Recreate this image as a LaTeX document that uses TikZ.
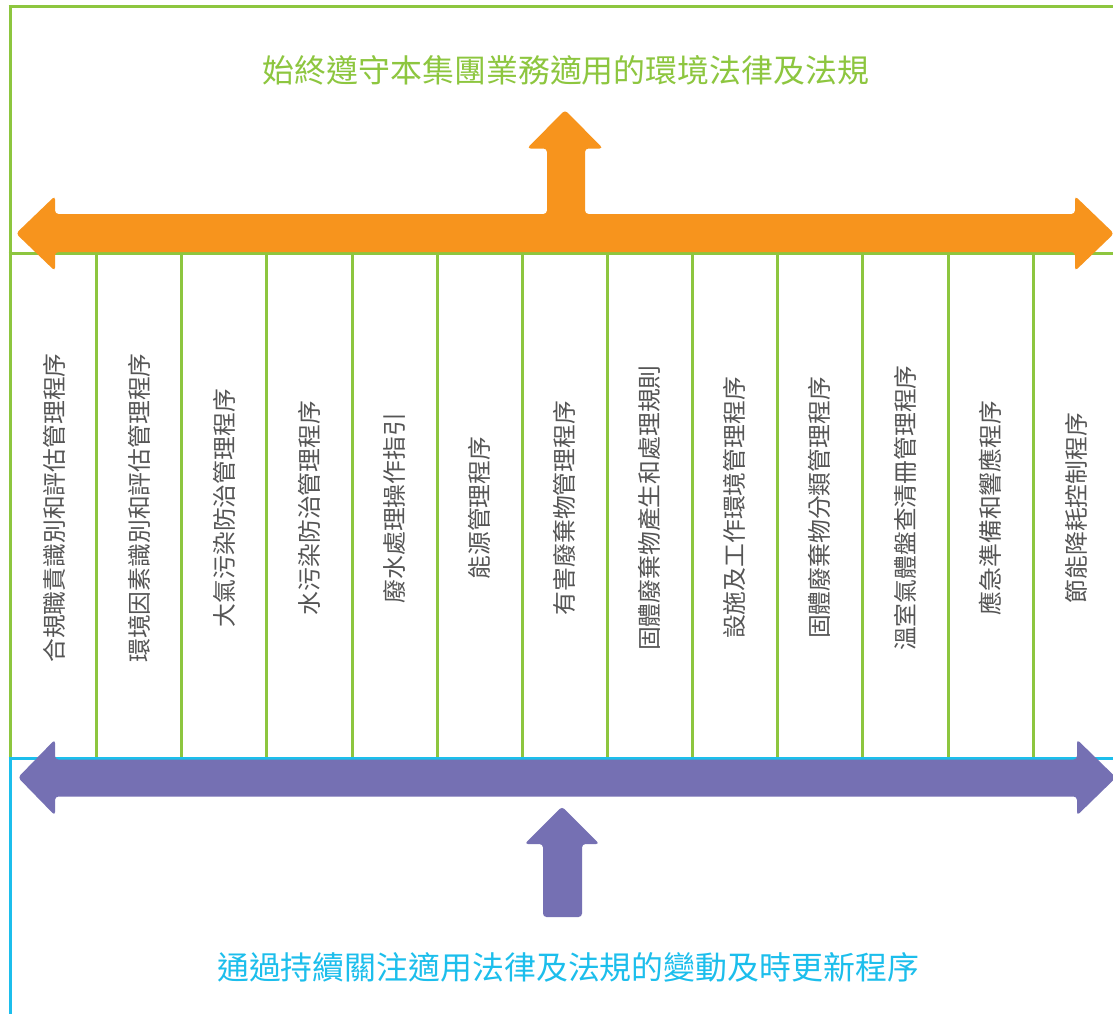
\documentclass[tikz,border=0pt]{standalone}
\usepackage{fontspec}
\newfontfamily\cjk{Noto Sans CJK TC}
\definecolor{lgreen}{HTML}{8DC63F}
\definecolor{orng}{HTML}{F7941D}
\definecolor{purp}{HTML}{7570B3}
\definecolor{cyn}{HTML}{1CBEEC}
\definecolor{txtgray}{HTML}{555555}
\tikzset{
  gline/.style={draw=lgreen, line width=3pt},
  cline/.style={draw=cyn, line width=3pt},
  arrowshape/.style={rounded corners=3.5pt},
  coltext/.style={rotate=90, text=txtgray, font=\cjk\fontsize{23.8pt}{26pt}\selectfont, inner sep=0pt},
  title/.style={font=\cjk\fontsize{31.9pt}{34pt}\selectfont, inner sep=0pt}
}
\begin{document}
\begin{tikzpicture}[x=1pt,y=-1pt]
\useasboundingbox (0,0) rectangle (1113,1014);
\fill[white] (0,0) rectangle (1113,1014);
% frame lines
\draw[gline] (8.5,7) -- (1113,7);
\draw[gline] (10,7) -- (10,758);
\draw[gline] (8.5,253) -- (1113,253);
\foreach \x in {96,181,266,352,437,522,607,692,777,862,948,1033}{
  \draw[gline] (\x,253) -- (\x,758);
}
\draw[cline] (8.5,758) -- (1113,758);
\draw[cline] (10,758) -- (10,1014);
% orange arrow
\fill[orng, arrowshape] (16,233.5) -- (55,196) -- (55,214) -- (547,214) -- (547,148.5) -- (527,148.5)
  -- (565,110) -- (603,148.5) -- (585,148.5) -- (585,214) -- (1075,214) -- (1075,196)
  -- (1114,233.5) -- (1075,271) -- (1075,252) -- (55,252) -- (55,271) -- cycle;
% purple arrow
\fill[purp, arrowshape] (18,777.5) -- (55,739.5) -- (55,759.5) -- (1077,759.5) -- (1077,739.5)
  -- (1116,777.5) -- (1077,815.5) -- (1077,796.5) -- (55,796.5) -- (55,815.5) -- cycle;
\fill[purp, arrowshape] (543,917) -- (543,844) -- (524.5,844) -- (562,806.5) -- (599.5,844)
  -- (582,844) -- (582,917) -- cycle;
% titles
\node[title, text=lgreen] (top) at (566,70) {始終遵守本集團業務適用的環境法律及法規};
\node[title, text=cyn] (bottom) at (568,967) {通過持續關注適用法律及法規的變動及時更新程序};
% column texts
\node[coltext] (c1) at (54,508) {合規職責識別和評估管理程序};
\node[coltext] (c2) at (139,508) {環境因素識別和評估管理程序};
\node[coltext] (c3) at (224,508) {大氣污染防治管理程序};
\node[coltext] (c4) at (309.5,508) {水污染防治管理程序};
\node[coltext] (c5) at (394.5,508) {廢水處理操作指引};
\node[coltext] (c6) at (479.5,508) {能源管理程序};
\node[coltext] (c7) at (564.5,508) {有害廢棄物管理程序};
\node[coltext] (c8) at (649.5,508) {固體廢棄物產生和處理規則};
\node[coltext] (c9) at (734.5,508) {設施及工作環境管理程序};
\node[coltext] (c10) at (819.5,508) {固體廢棄物分類管理程序};
\node[coltext] (c11) at (905,508) {溫室氣體盤查清冊管理程序};
\node[coltext] (c12) at (990.5,508) {應急準備和響應程序};
\node[coltext] (c13) at (1076,508) {節能降耗控制程序};
\end{tikzpicture}
\end{document}
